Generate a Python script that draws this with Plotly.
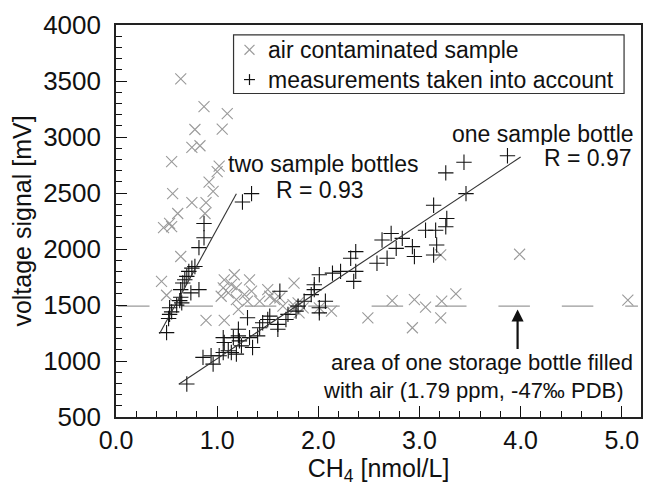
import plotly.graph_objects as go

# ---- data ----
air_x = [0.64, 0.87, 1.10, 0.78, 1.05, 0.75, 0.83, 0.55, 1.02, 1.00, 0.92, 0.96, 0.56,
         0.75, 0.89, 0.88, 0.61, 0.47, 0.53, 0.55, 0.64, 0.45, 0.50, 0.89, 1.07,
         1.07, 1.17, 1.06, 1.14, 1.19, 1.32, 1.34, 1.04, 1.11, 1.19, 1.27, 1.30, 1.21,
         1.42, 1.50, 1.52, 1.57, 1.62, 1.76, 1.65, 1.75, 1.80, 1.76, 1.85, 1.81, 2.01, 2.13,
         2.73, 2.95, 3.06, 3.22, 3.36, 2.49, 2.93, 3.21, 3.21, 3.99, 5.06]
air_y = [3519, 3271, 3209, 3067, 3070, 2907, 2922, 2780, 2739, 2691, 2597, 2514, 2494,
         2414, 2414, 2317, 2317, 2190, 2228, 2199, 1933, 1711, 1587, 1362, 1362,
         1725, 1770, 1652, 1681, 1652, 1725, 1623, 1578, 1608, 1548, 1593, 1534, 1460,
         1534, 1637, 1578, 1548, 1563, 1696, 1490, 1504, 1519, 1460, 1475, 1430, 1475, 1445,
         1539, 1548, 1481, 1534, 1599, 1386, 1297, 1386, 1947, 1953, 1543]

meas_x = [1.34, 1.25, 0.87, 0.87, 0.82, 0.78, 0.75, 0.72, 0.70, 0.68, 0.66, 0.64, 0.74,
          0.82, 0.64, 0.63, 0.65, 0.60, 0.53, 0.55, 0.53, 0.52, 0.50,
          0.70, 0.86, 0.94, 0.96, 1.02, 1.06, 1.11, 1.14, 1.19, 1.06, 1.07, 1.16, 1.21,
          1.21, 1.22, 1.24, 1.32, 1.35, 1.40, 1.42, 1.45, 1.50, 1.52, 1.30, 1.60, 1.60,
          1.62, 1.68, 1.70, 1.78, 1.80, 1.86, 1.93, 1.96, 1.96, 2.01, 2.07, 2.01, 2.01,
          2.14, 2.22, 2.37, 2.35, 2.32, 2.37, 2.58, 2.68, 2.63, 2.72, 2.77, 2.83, 2.93,
          2.95, 3.14, 3.17, 3.06, 3.16, 3.26, 3.27, 3.14, 3.46, 3.26, 3.44, 3.87]
meas_y = [2494, 2420, 2228, 2101, 2012, 1844, 1829, 1800, 1756, 1725, 1696, 1637, 1608,
          1637, 1569, 1539, 1519, 1499, 1475, 1439, 1416, 1380, 1253,
          795, 1032, 1047, 972, 1047, 1076, 1091, 1076, 1061, 1209, 1165, 1209, 1283,
          1224, 1180, 1135, 1209, 1120, 1224, 1297, 1342, 1371, 1401, 1386, 1327, 1283,
          1623, 1371, 1416, 1445, 1490, 1534, 1593, 1637, 1681, 1770, 1534, 1475, 1430,
          1785, 1800, 1800, 1711, 1918, 1977, 1873, 1918, 2080, 2139, 2006, 2095, 2021,
          1933, 1947, 2036, 2168, 2168, 2199, 2272, 2390, 2494, 2680, 2775, 2833]

fit_two_x = [0.43, 1.19]
fit_two_y = [1244, 2493]
fit_one_x = [0.62, 4.00]
fit_one_y = [792, 2821]

air_level_x = [0.02, 5.16]
air_level_y = [1490, 1490]

arrow_x = 3.97
arrow_from_y = 1094
arrow_to_y = 1460

x_ticks = [0, 1, 2, 3, 4, 5]
x_ticktext = ["0.0", "1.0", "2.0", "3.0", "4.0", "5.0"]
y_ticks = [500, 1000, 1500, 2000, 2500, 3000, 3500, 4000]

legend_labels = ["air contaminated sample", "measurements taken into account"]

FONT = "Liberation Sans, Arial, sans-serif"
INK = "#111111"
GREY = "#9a9a9a"

# plot-area geometry in pixels (for placing the hand-drawn legend box)
W, H = 646, 486
ML, MR, MT, MB = 116, 3, 25, 66
PW, PH = W - ML - MR, H - MT - MB


def px(xp):
    return (xp - ML) / PW


def py(yp):
    return (H - MB - yp) / PH


fig = go.Figure()

fig.add_trace(go.Scatter(
    x=air_level_x, y=air_level_y, mode="lines",
    line=dict(color=GREY, width=1.4, dash="31.5px,31.9px"),
    showlegend=False, hoverinfo="skip"))

fig.add_trace(go.Scatter(
    x=air_x, y=air_y, mode="markers", name=legend_labels[0], showlegend=False,
    marker=dict(symbol="x-thin", size=11, line=dict(color=GREY, width=1.1), color=GREY)))

fig.add_trace(go.Scatter(
    x=meas_x, y=meas_y, mode="markers", name=legend_labels[1], showlegend=False,
    marker=dict(symbol="cross-thin", size=11, line=dict(color=INK, width=1.1), color=INK)))

fig.add_trace(go.Scatter(
    x=fit_two_x, y=fit_two_y, mode="lines",
    line=dict(color="#333333", width=1.1), showlegend=False, hoverinfo="skip"))
fig.add_trace(go.Scatter(
    x=fit_one_x, y=fit_one_y, mode="lines",
    line=dict(color="#333333", width=1.1), showlegend=False, hoverinfo="skip"))

ann_font = dict(family=FONT, size=23, color=INK)
annotations = [
    dict(x=1.09, y=2762, text="two sample bottles", xanchor="left", yanchor="middle", height=22),
    dict(x=1.56, y=2530, text="R = 0.93", xanchor="left", yanchor="middle", height=22),
    dict(x=5.14, y=3030, text="one sample bottle", xanchor="right", yanchor="middle", height=22),
    dict(x=4.21, y=2810, text="R = 0.97", xanchor="left", yanchor="middle", height=22),
    dict(x=3.62, y=990, text="area of one storage bottle filled", xanchor="center", yanchor="middle",
         font=dict(family=FONT, size=22, color=INK), height=24),
    dict(x=3.53, y=745, text="with air (1.79 ppm, -47‰ PDB)", xanchor="center", yanchor="middle",
         font=dict(family=FONT, size=22, color=INK), height=24),
]
for a in annotations:
    a.setdefault("font", ann_font)
    a.update(xref="x", yref="y", showarrow=False)

annotations.append(dict(
    x=arrow_x, y=arrow_to_y, ax=arrow_x, ay=arrow_from_y,
    xref="x", yref="y", axref="x", ayref="y", text="", showarrow=True,
    arrowhead=2, arrowsize=1.1, arrowwidth=2.2, arrowcolor=INK, standoff=0))

# legend texts
for i, lab in enumerate(legend_labels):
    annotations.append(dict(
        x=px(267), y=py(50 + 30 * i), xref="paper", yref="paper", text=lab,
        xanchor="left", yanchor="middle", showarrow=False,
        font=dict(family=FONT, size=23, color=INK)))

shapes = [
    dict(type="rect", xref="paper", yref="paper", x0=px(234), x1=px(626), y0=py(94), y1=py(35),
         line=dict(color="#333333", width=1.2), fillcolor="white", layer="above"),
    # legend symbol: grey x
    dict(type="line", xref="paper", yref="paper", x0=px(245), x1=px(255), y0=py(45), y1=py(55),
         line=dict(color=GREY, width=1.2)),
    dict(type="line", xref="paper", yref="paper", x0=px(245), x1=px(255), y0=py(55), y1=py(45),
         line=dict(color=GREY, width=1.2)),
    # legend symbol: black +
    dict(type="line", xref="paper", yref="paper", x0=px(244.5), x1=px(255.5), y0=py(80), y1=py(80),
         line=dict(color=INK, width=1.2)),
    dict(type="line", xref="paper", yref="paper", x0=px(250), x1=px(250), y0=py(74.5), y1=py(85.5),
         line=dict(color=INK, width=1.2)),
]

tick_font = dict(family=FONT, size=26, color=INK)

fig.update_layout(
    width=W, height=H,
    margin=dict(l=ML, r=MR, t=MT, b=MB),
    paper_bgcolor="white", plot_bgcolor="white",
    font=dict(family=FONT, color=INK),
    annotations=annotations, shapes=shapes,
    showlegend=False,
    xaxis=dict(
        range=[0, 5.19], tickvals=x_ticks, ticktext=x_ticktext,
        ticks="inside", ticklen=11, tickwidth=1.2, tickcolor=INK,
        minor=dict(dtick=0.2, ticks="inside", ticklen=6, tickwidth=1, tickcolor=INK, showgrid=False),
        showline=True, mirror=True, linecolor="#222222", linewidth=1.6,
        showgrid=False, zeroline=False, tickfont=dict(family=FONT, size=25, color=INK),
        title=dict(text="CH<sub>4</sub> [nmol/L]", font=dict(family=FONT, size=25, color=INK), standoff=12)),
    yaxis=dict(
        range=[500, 4000], tickvals=y_ticks,
        ticks="inside", ticklen=11, tickwidth=1.2, tickcolor=INK,
        minor=dict(dtick=100, ticks="inside", ticklen=6, tickwidth=1, tickcolor=INK, showgrid=False),
        showline=True, mirror=True, linecolor="#222222", linewidth=1.6,
        showgrid=False, zeroline=False, tickfont=tick_font, ticklabelstandoff=8,
        title=dict(text="voltage signal [mV]", font=dict(family=FONT, size=25, color=INK), standoff=4)),
)

fig.write_html("out.html")
